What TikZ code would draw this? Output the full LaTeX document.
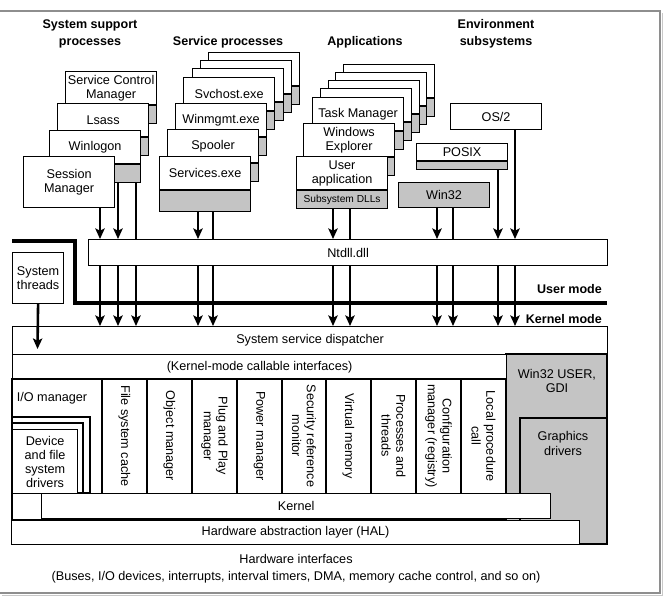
\documentclass[tikz,border=0pt]{standalone}
\usepackage{fontspec}
\setmainfont{Liberation Sans}
\usetikzlibrary{arrows.meta,positioning}
\definecolor{WinGray}{HTML}{C4C4C4}
\definecolor{WinFrame}{HTML}{8E8E8E}
\definecolor{WinShade}{HTML}{C8C8C8}

\tikzset{
  proc/.style={draw,line width=1pt,fill=white,anchor=north west,inner sep=0.5pt,
    minimum width=2.73cm,minimum height=0.99cm,align=center,
    font=\fontsize{10.8}{12}\selectfont},
  dll/.style={draw,line width=1pt,fill=WinGray,inner sep=0pt,
    minimum width=2.73cm,minimum height=0.54cm},
  layer/.style={draw,line width=1pt,fill=white,anchor=north west,inner sep=0pt},
  head/.style={font=\fontsize{10.7}{14.5}\selectfont\bfseries,align=center},
  vlabel/.style={rotate=-90,align=center},
  arr/.style={line width=2.2pt,-{Stealth[length=9pt,width=8pt,inset=2pt]}},
  feed/.style={line width=2.2pt},
  modeline/.style={line width=4pt},
}

\begin{document}
\begin{tikzpicture}[x=0.03cm,y=-0.03cm,font=\fontsize{10.8}{12.5}\selectfont]
        \useasboundingbox (0,0) rectangle (667,596);

        \draw[WinShade,line width=1.6pt] (2,595.5) -- (662.5,595.5) -- (662.5,13);
        \draw[WinFrame,line width=1pt] (0,11) -- (660,11) -- (660,593) -- (0,593);

        \node[head] (h-sys) at (90,33.5) {System support\\processes};
        \node[head] (h-svc) at (228,42) {Service processes};
        \node[head] (h-app) at (365,42) {Applications};
        \node[head] (h-env) at (496,33.5) {Environment\\subsystems};

        \node[proc] (scm) at (65,71) {Service Control\\Manager};
        \node[dll,below=0pt of scm] (scm-s) {};
        \node[proc] (lsass) at (57,103) {Lsass};
        \node[dll,below=0pt of lsass] (lsass-s) {};
        \node[proc] (winlogon) at (49,130) {Winlogon};
        \node[dll,below=0pt of winlogon] (winlogon-s) {};
        \node[proc,minimum height=1.53cm] (smss) at (23,156) {Session\\Manager};

        \node[proc] (svc-b3) at (208,52) {};
        \node[dll,below=0pt of svc-b3] (svc-b3-s) {};
        \node[proc] (svc-b2) at (200,60) {};
        \node[dll,below=0pt of svc-b2] (svc-b2-s) {};
        \node[proc] (svc-b1) at (192,68) {};
        \node[dll,below=0pt of svc-b1] (svc-b1-s) {};
        \node[proc] (svchost) at (183,77) {Svchost.exe};
        \node[dll,below=0pt of svchost] (svchost-s) {};
        \node[proc] (winmgmt) at (175,103) {Winmgmt.exe};
        \node[dll,below=0pt of winmgmt] (winmgmt-s) {};
        \node[proc] (spooler) at (167,129) {Spooler};
        \node[dll,below=0pt of spooler] (spooler-s) {};
        \node[proc] (services) at (159,156) {Services.exe};
        \node[dll,minimum height=0.63cm,below=0pt of services] (services-s) {};

        \node[proc] (app-b4) at (343,64) {};
        \node[dll,below=0pt of app-b4] (app-b4-s) {};
        \node[proc] (app-b3) at (335,72) {};
        \node[dll,below=0pt of app-b3] (app-b3-s) {};
        \node[proc] (app-b2) at (328,80) {};
        \node[dll,below=0pt of app-b2] (app-b2-s) {};
        \node[proc] (app-b1) at (320,88) {};
        \node[dll,below=0pt of app-b1] (app-b1-s) {};
        \node[proc] (taskmgr) at (312,97) {Task Manager};
        \node[dll,below=0pt of taskmgr] (taskmgr-s) {};
        \node[proc] (explorer) at (303,123) {Windows\\Explorer};
        \node[dll,below=0pt of explorer] (explorer-s) {};
        \node[proc] (userapp) at (296,156) {User\\application};
        \node[dll,below=0pt of userapp,font=\fontsize{8.7}{10}\selectfont] (userapp-s) {Subsystem DLLs};

        \node[proc,minimum height=0.78cm] (os2) at (450,103) {OS/2};
        \node[proc,minimum height=0.51cm] (posix) at (416,143) {POSIX};
        \node[dll,minimum height=0.24cm,below=0pt of posix] (posix-s) {};
        \node[dll,anchor=north west,minimum height=0.75cm,font=\fontsize{10.8}{12}\selectfont] (win32) at (398,182) {Win32};

        \node[layer,minimum width=15.57cm,minimum height=0.78cm] (ntdll) at (88,239) {Ntdll.dll};
        \node[layer,minimum width=1.53cm,minimum height=1.53cm,align=center] (systhr) at (12,252) {System\\threads};
        \node[layer,minimum width=17.85cm,minimum height=0.84cm] (ssd) at (12,326) {System service dispatcher};

        \coordinate (ss1) at (100,0);
        \coordinate (ss2) at (118,0);
        \coordinate (ss3) at (136,0);
        \coordinate (sv1) at (198,0);
        \coordinate (sv2) at (213,0);
        \coordinate (ap1) at (333,0);
        \coordinate (ap2) at (350,0);
        \coordinate (w1) at (437,0);
        \coordinate (w2) at (453,0);
        \coordinate (px) at (498,0);
        \coordinate (os) at (515,0);
        \coordinate (thr-end) at (37.5,349);

        \draw[arr] (smss.south -| ss1) -- (ntdll.north -| ss1);
        \draw[arr] (winlogon-s.south -| ss2) -- (ntdll.north -| ss2);
        \draw[feed] (winlogon-s.south -| ss3) -- (ntdll.north -| ss3);
        \draw[arr] (services-s.south -| sv1) -- (ntdll.north -| sv1);
        \draw[feed] (services-s.south -| sv2) -- (ntdll.north -| sv2);
        \draw[arr] (userapp-s.south -| ap1) -- (ntdll.north -| ap1);
        \draw[feed] (userapp-s.south -| ap2) -- (ntdll.north -| ap2);
        \draw[arr] (win32.south -| w1) -- (ntdll.north -| w1);
        \draw[feed] (win32.south -| w2) -- (ntdll.north -| w2);
        \draw[arr] (posix-s.south -| px) -- (ntdll.north -| px);
        \draw[arr] (os2.south -| os) -- (ntdll.north -| os);

        \draw[modeline] (12,241) -| (75,303) -- (607,303);
        \node[anchor=east,font=\fontsize{10.7}{12}\selectfont\bfseries] (umode) at (606,289) {User mode};
        \node[anchor=east,font=\fontsize{10.7}{12}\selectfont\bfseries] (kmode) at (606,319) {Kernel mode};

        \foreach \c in {ss1,ss2,ss3,sv1,sv2,ap1,ap2,w1,w2,px,os}
          \draw[arr] (ntdll.south -| \c) -- (ssd.north -| \c);
        \draw[arr] (systhr.south) -- (thr-end);

        \draw[line width=1pt,fill=WinGray] (506,354) rectangle (607,544);
        \draw[line width=1pt] (520,418) rectangle (607,544);
        \node[align=center] (win32k) at (557,381) {Win32 USER,\\GDI};
        \node[align=center] (gfxdrv) at (563,443.5) {Graphics\\drivers};

        \node[layer,minimum width=14.82cm,minimum height=0.75cm] (kmci) at (12,354) {(Kernel-mode callable interfaces)};
        \draw[line width=1pt,fill=white] (12,379) rectangle (506,520);
        \draw[line width=1pt,fill=white] (12,417) rectangle (90,493);
        \draw[line width=1pt,fill=white] (12,423) rectangle (83,493);
        \node[layer,minimum width=1.95cm,minimum height=1.92cm,align=center,
          font=\fontsize{10.8}{12}\selectfont] (devdrv) at (12,429) {Device\\and file\\system\\drivers};
        \node (iomgr) at (52,398) {I/O manager};

        \foreach \x in {102,147,192,237,282,326,371,416,461}
          \draw[line width=1pt] (\x,379) -- (\x,493);
        \node[vlabel] (fscache) at (124.5,436) {File system cache};
        \node[vlabel] (objmgr) at (169.5,436) {Object manager};
        \node[vlabel] (pnp) at (214.5,436) {Plug and Play\\manager};
        \node[vlabel] (power) at (259.5,436) {Power manager};
        \node[vlabel] (srm) at (304,436) {Security reference\\monitor};
        \node[vlabel] (vmem) at (348.5,436) {Virtual memory};
        \node[vlabel] (proc) at (393.5,436) {Processes and\\threads};
        \node[vlabel] (cfgmgr) at (438.5,436) {Configuration\\manager (registry)};
        \node[vlabel] (lpc) at (483.5,436) {Local procedure\\call};

        \node[layer,minimum width=15.27cm,minimum height=0.75cm] (kernel) at (41,493) {Kernel};
        \node[layer,minimum width=17.04cm,minimum height=0.72cm] (hal) at (11,520) {Hardware abstraction layer (HAL)};
        \node (hwif) at (296,559) {Hardware interfaces};
        \node (hwlist) at (296,577) {(Buses, I/O devices, interrupts, interval timers, DMA, memory cache control, and so on)};
      \end{tikzpicture}
\end{document}
